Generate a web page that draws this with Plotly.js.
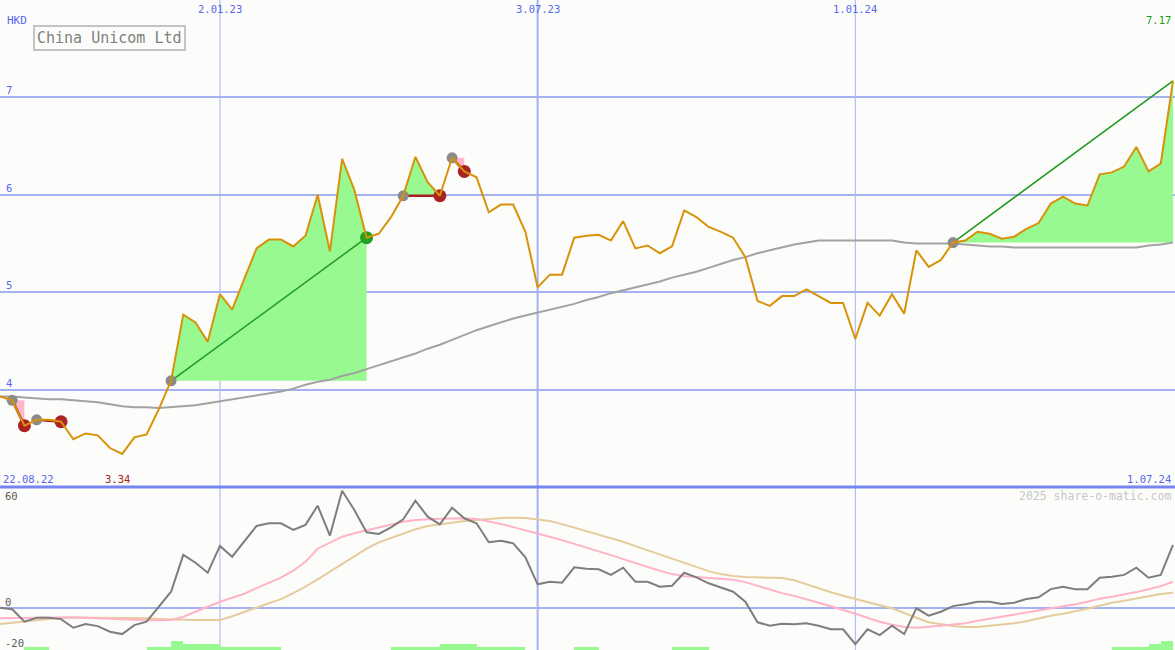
<!DOCTYPE html>
<html>
<head>
<meta charset="utf-8">
<script src="https://cdn.plot.ly/plotly-3.0.1.min.js"></script>
<style>
  html, body { margin: 0; padding: 0; background: #fcfdfa; }
  #chart { width: 1175px; height: 650px; }
</style>
</head>
<body>
<div id="chart"></div>
<script>
// ---------------- data ----------------
const firstWeek = '2022-08-29';
const weekCount = 97;

const price = [3.93,3.89,3.63,3.69,3.69,3.67,3.49,3.55,3.53,3.40,
  3.34,3.51,3.54,3.80,4.09,4.77,4.69,4.49,4.98,4.82,
  5.14,5.45,5.54,5.54,5.47,5.58,6.00,5.42,6.37,6.05,
  5.56,5.60,5.77,5.99,6.39,6.13,5.99,6.38,6.24,6.18,
  5.82,5.90,5.90,5.62,5.05,5.18,5.18,5.56,5.58,5.59,
  5.53,5.73,5.45,5.48,5.40,5.47,5.84,5.77,5.67,5.62,
  5.56,5.36,4.91,4.86,4.96,4.96,5.03,4.96,4.89,4.89,
  4.52,4.89,4.76,4.98,4.78,5.43,5.26,5.33,5.51,5.53,
  5.62,5.60,5.55,5.57,5.65,5.71,5.91,5.98,5.91,5.89,
  6.21,6.23,6.29,6.49,6.24,6.32,7.17];

const movingAvg = [3.93,3.93,3.92,3.91,3.90,3.90,3.89,3.88,3.87,3.85,
  3.83,3.82,3.82,3.81,3.82,3.83,3.84,3.86,3.88,3.90,
  3.92,3.94,3.96,3.98,4.01,4.05,4.08,4.10,4.14,4.17,
  4.21,4.25,4.29,4.33,4.37,4.42,4.46,4.51,4.56,4.61,
  4.65,4.69,4.73,4.76,4.79,4.82,4.85,4.88,4.92,4.95,
  4.99,5.02,5.05,5.08,5.11,5.15,5.18,5.21,5.25,5.29,
  5.33,5.36,5.40,5.43,5.46,5.49,5.51,5.53,5.53,5.53,
  5.53,5.53,5.53,5.53,5.51,5.50,5.50,5.50,5.50,5.49,
  5.48,5.47,5.47,5.46,5.46,5.46,5.46,5.46,5.46,5.46,
  5.46,5.46,5.46,5.46,5.48,5.49,5.51];

const oscillator = [0,-0.8,-7,-5,-5,-5.7,-10,-8.2,-9.2,-12,
  -13.2,-8.7,-7,0.5,8,26.4,22.5,17.5,30.9,25.5,
  33.4,40.9,42.2,42.2,38.9,41.4,51,36,58.5,48.9,
  37.7,36.9,40.2,44.2,53.5,45.5,41.7,50,44.7,42.2,
  32.7,33.5,32.2,25.2,11.7,13,12.5,20.2,19.5,19.2,
  16.4,20,13,13,10.5,11,17.5,15.2,12.2,10,
  8,3,-7.3,-9,-8,-8.3,-7.8,-9,-10.8,-10.8,
  -18.2,-10.8,-13.7,-9,-13.2,-0.3,-4,-2,0.8,1.7,
  3,3,1.8,2.5,4.3,5.2,9.3,10.5,9.2,9.2,
  15,15.5,16.4,20,15,16.4,31.4];

const oscFast = [-5.3,-5.2,-5.0,-4.9,-4.8,-4.8,-4.8,-5.0,-5.3,-5.6,
  -6.0,-6.2,-6.3,-6.3,-6.2,-4.5,-2.0,0.5,3.0,5.0,
  7.0,9.8,12.5,15.0,18.5,23.0,29.5,32.5,35.5,37.2,
  38.7,40.2,41.5,43.0,43.8,44.2,44.5,44.6,44.7,44.3,
  43.2,41.8,40.3,38.8,37.3,35.5,33.8,32.0,30.2,28.2,
  26.3,24.3,22.3,20.5,18.5,16.8,15.7,15.3,14.8,14.5,
  14.0,12.8,11.0,9.2,7.3,5.9,4.3,2.5,0.7,-1.0,
  -3.0,-5.0,-7.0,-8.5,-9.6,-10.0,-9.6,-9.0,-8.4,-7.8,
  -6.5,-5.5,-4.5,-3.5,-2.5,-1.5,-0.5,0.5,1.7,3.0,
  4.5,5.5,6.5,7.8,9.2,10.8,13.0];

const oscSlow = [-8.2,-7.5,-6.8,-6.0,-5.6,-5.2,-5.0,-5.0,-5.0,-5.0,
  -5.0,-5.0,-5.3,-5.6,-5.9,-6.1,-6.2,-6.2,-6.2,-4.3,
  -2.3,0,2.2,4.3,7.3,10.5,14.2,18.0,21.8,25.8,
  29.5,32.7,35.0,37.0,39.2,40.8,41.8,42.5,43.4,44.0,
  44.4,44.8,45.0,44.8,44.2,43.3,41.8,40.0,38.3,36.5,
  34.8,33.0,30.8,28.7,26.7,24.7,22.5,20.2,18.3,16.8,
  15.8,15.4,15.2,15.1,14.8,13.7,11.7,9.5,7.7,6.0,
  4.3,2.7,1.2,-0.3,-2.8,-5.0,-7.3,-8.3,-9.2,-9.7,
  -9.6,-9.0,-8.5,-7.8,-6.8,-5.3,-4.0,-3.0,-1.8,-0.5,
  1.0,2.5,3.5,4.6,5.8,6.8,7.5];

const signalLevel = [0,0,1,1,0,0,0,0,0,0,
  0,0,1,1,3,2,2,2,1,1,
  1,1,1,0,0,0,0,0,0,0,
  0,0,1,1,1,1,2,2,2,1,
  1,1,1,0,0,0,0,1,1,0,
  0,0,0,0,0,1,1,1,0,0,
  0,0,0,0,0,0,0,0,0,0,
  0,0,0,0,0,0,0,0,0,0,
  0,0,0,0,0,0,0,0,0,0,
  0,1,1,1,2,3,0];

const tradeOpen   = [1, 3, 14, 33, 37, 78];
const tradeClose  = [2, 5, 30, 36, 38, 96];
const tradeClosed = [true, true, true, true, true, false];

const tickDates  = ['2023-01-02', '2023-07-03', '2024-01-01'];
const tickLabels = ['2.01.23', '3.07.23', '1.01.24'];
const priceTicks = [4, 5, 6, 7];
const oscTicks   = [60, 0, -20];
const startLabel = '22.08.22';
const endLabel   = '1.07.24';
const chartTitle = 'China Unicom Ltd';
const currency   = 'HKD';
const watermark  = '2025 share-o-matic.com';

// ---------------- build ----------------
const DAY = 864e5;
const t0 = Date.parse(firstWeek + 'T00:00:00Z');
const dates = [];
for (let i = 0; i < weekCount; i++) {
  dates.push(new Date(t0 + i * 7 * DAY).toISOString().slice(0, 10));
}

const FONT = 'DejaVu Sans Mono, Liberation Mono, monospace';
const BLUE = '#5666ee';
const GRID = '#a6b2f0';

const traces = [];

// trade fills
tradeOpen.forEach((o, k) => {
  const c = tradeClose[k];
  const base = price[o];
  const xs = [], ys = [];
  let s = 0;
  for (let i = o; i <= c; i++) { xs.push(dates[i]); ys.push(price[i]); s += price[i] - base; }
  xs.push(dates[c]); ys.push(base);
  xs.push(dates[o]); ys.push(base);
  traces.push({
    x: xs, y: ys, type: 'scatter', mode: 'lines', fill: 'toself',
    fillcolor: s > 0 ? '#97f98f' : '#ffb8cb', line: { width: 0 },
    xaxis: 'x', yaxis: 'y', hoverinfo: 'skip', showlegend: false
  });
});

// moving average
traces.push({
  x: dates, y: movingAvg, type: 'scatter', mode: 'lines',
  line: { color: '#a2a2a2', width: 2 }, xaxis: 'x', yaxis: 'y', showlegend: false
});

// trade connection lines and markers
tradeOpen.forEach((o, k) => {
  const c = tradeClose[k];
  const gain = price[c] > price[o];
  traces.push({
    x: [dates[o], dates[c]], y: [price[o], price[c]], type: 'scatter', mode: 'lines',
    line: { color: gain ? '#1f9a1f' : '#a82020', width: gain ? 1.5 : 2.5 },
    xaxis: 'x', yaxis: 'y', showlegend: false
  });
});
traces.push({
  x: tradeOpen.map(i => dates[i]), y: tradeOpen.map(i => price[i]),
  type: 'scatter', mode: 'markers', marker: { color: '#8a8a8a', size: 11 },
  xaxis: 'x', yaxis: 'y', showlegend: false
});
const closedIdx = tradeClose.filter((c, k) => tradeClosed[k]);
traces.push({
  x: closedIdx.map(i => dates[i]), y: closedIdx.map(i => price[i]),
  type: 'scatter', mode: 'markers',
  marker: {
    size: 13,
    color: tradeClose.map((c, k) => price[c] > price[tradeOpen[k]] ? '#22a022' : '#aa2222')
      .filter((v, k) => tradeClosed[k])
  },
  xaxis: 'x', yaxis: 'y', showlegend: false
});

// price line
traces.push({
  x: dates, y: price, type: 'scatter', mode: 'lines',
  line: { color: '#d8920a', width: 2 }, xaxis: 'x', yaxis: 'y', showlegend: false
});

// lower panel: signal bars
traces.push({
  x: dates, y: signalLevel, type: 'bar', offset: 0, width: 7 * DAY,
  marker: { color: '#97f98f', line: { width: 0 } },
  xaxis: 'x', yaxis: 'y3', showlegend: false
});
traces.push({
  x: dates, y: oscSlow, type: 'scatter', mode: 'lines',
  line: { color: '#e4cc9c', width: 2 }, xaxis: 'x', yaxis: 'y2', showlegend: false
});
traces.push({
  x: dates, y: oscFast, type: 'scatter', mode: 'lines',
  line: { color: '#ffb2c8', width: 2 }, xaxis: 'x', yaxis: 'y2', showlegend: false
});
traces.push({
  x: dates, y: oscillator, type: 'scatter', mode: 'lines',
  line: { color: '#7e7e7e', width: 2 }, xaxis: 'x', yaxis: 'y2', showlegend: false
});

// ---------------- layout ----------------
const H = 650, W = 1175;
const splitPx = 487;
const split = (H - splitPx) / H;
const px = v => v / W;
const py = v => 1 - v / H;

const xStart = Date.parse(firstWeek + 'T00:00:00Z');
const xEnd = Date.parse(dates[weekCount - 1] + 'T00:00:00Z') + 1.15 * DAY;

const shapes = [];
const vWidths = [1, 2, 1];
tickDates.forEach((d, k) => {
  shapes.push({ type: 'line', xref: 'x', yref: 'paper', x0: d, x1: d, y0: 0, y1: 1,
    line: { color: GRID, width: vWidths[k] }, layer: 'below' });
});
shapes.push({ type: 'line', xref: 'paper', yref: 'paper', x0: 0, x1: 1, y0: split, y1: split,
  line: { color: '#7686f0', width: 3 } });

const annotations = [];
annotations.push({ xref: 'paper', yref: 'paper', x: px(5), y: py(20), xanchor: 'left', yanchor: 'middle',
  text: currency, showarrow: false, font: { family: FONT, size: 11, color: BLUE } });
annotations.push({ xref: 'paper', yref: 'paper', x: px(33), y: py(25), xanchor: 'left', yanchor: 'top',
  text: chartTitle, showarrow: false, bordercolor: '#c4c4c4', borderwidth: 2, borderpad: 2,
  font: { family: FONT, size: 15, color: '#808080' } });
tickDates.forEach((d, k) => {
  annotations.push({ xref: 'x', yref: 'paper', x: d, y: py(9), xanchor: 'center', yanchor: 'middle',
    text: tickLabels[k], showarrow: false, font: { family: FONT, size: 10.5, color: BLUE } });
});
priceTicks.forEach(v => {
  annotations.push({ xref: 'paper', yref: 'y', x: px(4), y: v, yshift: 7, xanchor: 'left', yanchor: 'middle',
    text: String(v), showarrow: false, font: { family: FONT, size: 10.5, color: BLUE } });
});
const oscLabelY = { '60': 496, '0': 602, '-20': 643 };
oscTicks.forEach(v => {
  annotations.push({ xref: 'paper', yref: 'paper', x: px(3), y: py(oscLabelY[String(v)]), xanchor: 'left', yanchor: 'middle',
    text: String(v), showarrow: false, font: { family: FONT, size: 10.5, color: '#5a5a5a' } });
});
const maxV = Math.max(...price), minV = Math.min(...price);
const minI = price.indexOf(minV);
annotations.push({ xref: 'paper', yref: 'paper', x: px(1173), y: py(20), xanchor: 'right', yanchor: 'middle',
  text: maxV.toFixed(2), showarrow: false, font: { family: FONT, size: 10.5, color: '#239b23' } });
annotations.push({ xref: 'x', yref: 'paper', x: dates[minI], xshift: -5, y: py(479), xanchor: 'center', yanchor: 'middle',
  text: minV.toFixed(2), showarrow: false, font: { family: FONT, size: 10.5, color: '#a82020' } });
annotations.push({ xref: 'paper', yref: 'paper', x: px(1), y: py(479), xanchor: 'left', yanchor: 'middle',
  text: startLabel, showarrow: false, font: { family: FONT, size: 10.5, color: BLUE } });
annotations.push({ xref: 'paper', yref: 'paper', x: px(1173), y: py(479), xanchor: 'right', yanchor: 'middle',
  text: endLabel, showarrow: false, font: { family: FONT, size: 10.5, color: BLUE } });
annotations.push({ xref: 'paper', yref: 'paper', x: px(1173), y: py(496), xanchor: 'right', yanchor: 'middle',
  text: watermark, showarrow: false, font: { family: FONT, size: 11.5, color: '#c6c6c6' } });

const layout = {
  width: W, height: H,
  margin: { l: 0, r: 0, t: 0, b: 0, pad: 0 },
  paper_bgcolor: '#fcfdfa', plot_bgcolor: '#fcfdfa',
  showlegend: false, bargap: 0,
  xaxis: { type: 'date', range: [xStart, xEnd], showgrid: false, zeroline: false,
    showticklabels: false, ticks: '', showline: false, anchor: 'y2' },
  yaxis: { domain: [split, 1], range: [3, 8], tickvals: priceTicks, showticklabels: false,
    gridcolor: GRID, gridwidth: 2, zeroline: false, ticks: '', showline: false },
  yaxis2: { domain: [0, split], range: [-21.15, 60.35], tickvals: [0], showticklabels: false,
    gridcolor: GRID, gridwidth: 2, zeroline: false, ticks: '', showline: false },
  yaxis3: { overlaying: 'y2', range: [0, 54.3], visible: false, showgrid: false, zeroline: false },
  shapes: shapes,
  annotations: annotations
};

Plotly.newPlot('chart', traces, layout, { displayModeBar: false, staticPlot: true });
</script>
</body>
</html>
